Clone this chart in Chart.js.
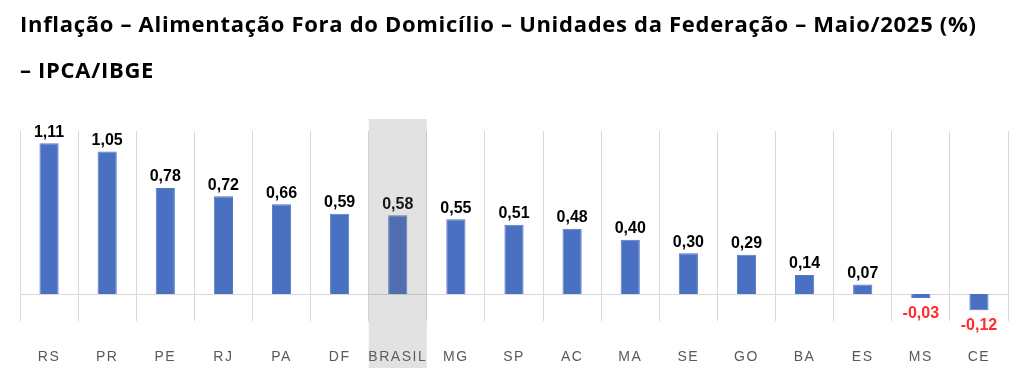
<!DOCTYPE html>
<html>
<head>
<meta charset="utf-8">
<script src="https://cdn.jsdelivr.net/npm/chart.js@4"></script>
<style>
  html, body { margin: 0; padding: 0; background: #fff; }
  #wrap { position: relative; width: 1024px; height: 391px; }
  #title {
    position: absolute; left: 20px; top: 0px;
    font-family: "Open Sans", Lato, sans-serif; font-weight: 700;
    font-size: 22px; line-height: 46px; color: #000; letter-spacing: 0.7px;
  }
  canvas { position: absolute; left: 0; top: 0; }
</style>
</head>
<body>
<div id="wrap">
  <canvas id="chart" width="1024" height="391"></canvas>
  <div id="title">Inflação – Alimentação Fora do Domicílio – Unidades da Federação – Maio/2025 (%)<br>– IPCA/IBGE</div>
</div>
<script>
var labels = ['RS', 'PR', 'PE', 'RJ', 'PA', 'DF', 'BRASIL', 'MG', 'SP', 'AC', 'MA', 'SE', 'GO', 'BA', 'ES', 'MS', 'CE'];
var values = [1.11, 1.05, 0.78, 0.72, 0.66, 0.59, 0.58, 0.55, 0.51, 0.48, 0.40, 0.30, 0.29, 0.14, 0.07, -0.03, -0.12];
var highlight = 'BRASIL';

// gray band over the Brasil column + value labels
var extras = {
  id: 'extras',
  beforeDraw: function (chart) {
    chart.ctx.letterSpacing = '1.5px';
  },
  beforeDatasetsDraw: function (chart) {
    chart.ctx.letterSpacing = '0px';
  },
  afterDatasetsDraw: function (chart) {
    var ctx = chart.ctx;
    var meta = chart.getDatasetMeta(0);
    ctx.save();
    ctx.font = 'bold 16px "Liberation Sans", Arial, sans-serif';
    ctx.textAlign = 'center';
    meta.data.forEach(function (bar, i) {
      var v = values[i];
      var txt = v.toFixed(2).replace('.', ',');
      if (v >= 0) {
        ctx.fillStyle = '#000';
        ctx.textBaseline = 'bottom';
        ctx.fillText(txt, bar.x, bar.y - 3);
      } else {
        ctx.fillStyle = '#ff2a2a';
        ctx.textBaseline = 'top';
        ctx.fillText(txt, bar.x, bar.y + 7);
      }
    });
    ctx.restore();
  },
  afterDraw: function (chart) {
    var ctx = chart.ctx;
    var x = chart.scales.x;
    var i = labels.indexOf(highlight);
    var w = x.getPixelForValue(1) - x.getPixelForValue(0);
    var cx = x.getPixelForValue(i);
    ctx.save();
    ctx.fillStyle = 'rgba(110,110,110,0.2)';
    ctx.fillRect(cx - w / 2, chart.chartArea.top - 12, w, chart.height - chart.chartArea.top - 11);
    ctx.restore();
  }
};

new Chart(document.getElementById('chart'), {
  type: 'bar',
  data: {
    labels: labels,
    datasets: [{
      data: values,
      backgroundColor: '#4A70C1',
      borderColor: '#5379C6',
      borderWidth: 1,
      barPercentage: 0.33,
      categoryPercentage: 1
    }]
  },
  options: {
    responsive: false,
    animation: false,
    layout: { padding: { left: 20, right: 16, top: 131, bottom: -3 } },
    plugins: {
      legend: { display: false },
      tooltip: { enabled: false },
      title: { display: false }
    },
    scales: {
      x: {
        grid: { color: '#d9d9d9', drawTicks: false, offset: true },
        border: { display: false },
        ticks: {
          color: '#595959',
          padding: 28,
          font: { size: 14, family: '"Liberation Sans", Arial, sans-serif' }
        }
      },
      y: {
        min: -0.2,
        max: 1.2,
        ticks: { display: false, stepSize: 0.2 },
        border: { display: false },
        grid: {
          drawTicks: false,
          color: function (c) { return Math.abs(c.tick.value) < 1e-9 ? '#d9d9d9' : 'rgba(0,0,0,0)'; }
        }
      }
    }
  },
  plugins: [extras]
});
</script>
</body>
</html>
